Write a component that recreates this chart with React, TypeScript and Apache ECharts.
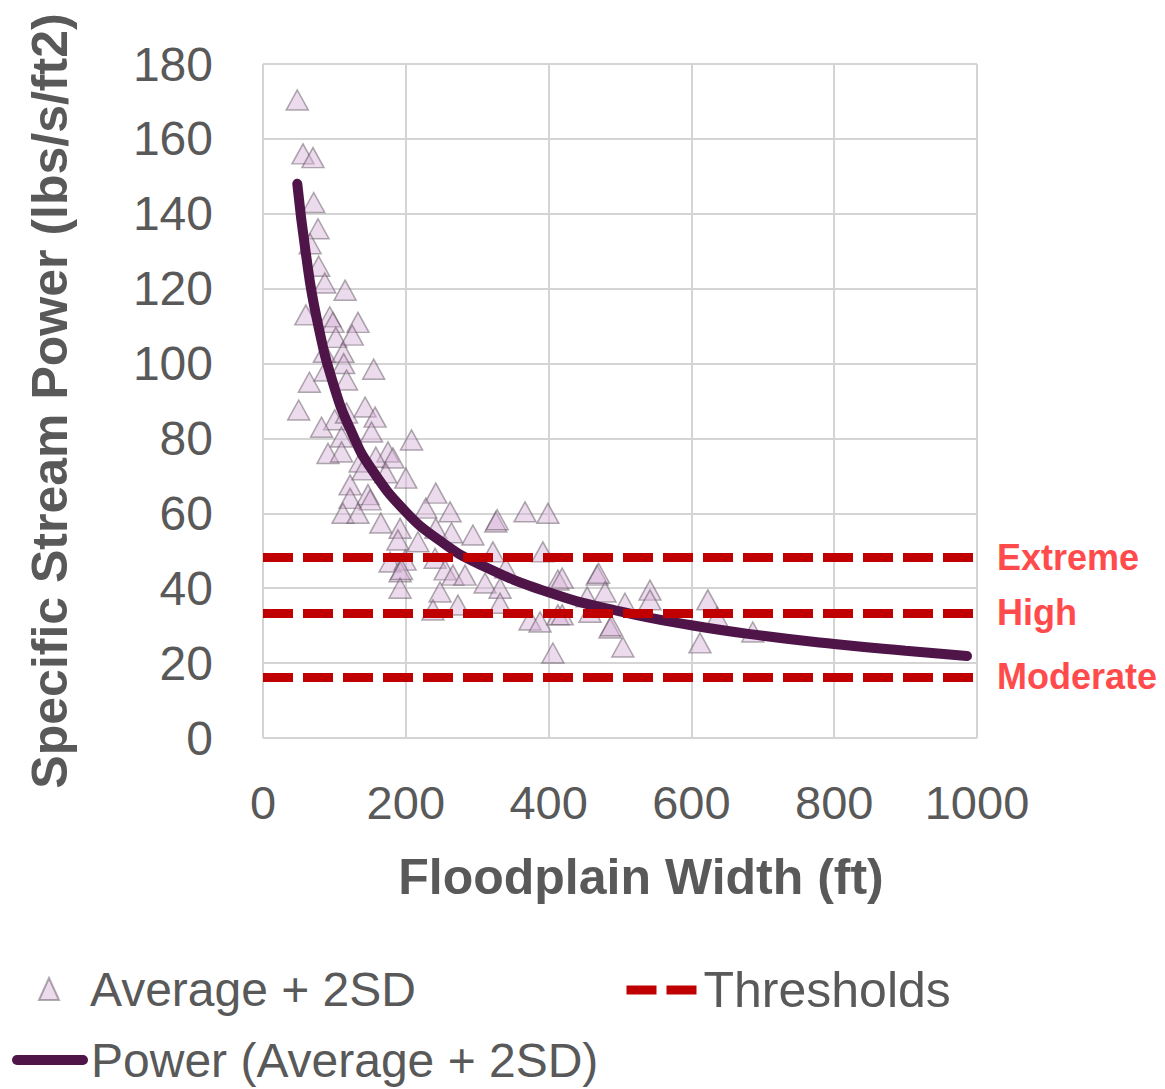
import React, { useEffect, useRef } from "react";
import * as echarts from "echarts";

// Scatter: Average + 2SD (floodplain width ft, specific stream power)
const scatterX = [
  48, 56, 70, 71, 77, 66, 78, 86.5, 115, 60, 93.5, 98, 133, 102, 125, 86, 112, 113, 155, 65,
  117, 87, 50, 143, 157, 100.5, 117, 82, 152, 208, 110, 91, 110, 175, 136, 182, 158, 140, 172, 200,
  122, 242, 147, 122, 150, 112, 133, 228, 262, 326, 328, 367, 399, 165, 192, 242, 264, 294, 189, 217,
  322, 392, 178, 199, 241, 192, 194, 255, 266, 283, 311, 332, 340, 413, 192, 248, 273, 238, 332, 374,
  388, 413, 406, 419, 468, 470, 479, 454, 542, 542, 507, 419, 458, 623, 636, 486, 488, 504, 612, 686,
];
const scatterY = [
  170.4, 156, 155, 143, 136, 132, 126, 121.5, 119.6, 113, 112.5, 111, 111, 107, 107.6, 103, 103, 100, 98.5, 95,
  95.6, 98, 87.6, 88.4, 85.7, 85, 86.8, 83, 81.7, 79.6, 80.4, 76, 76.4, 76.4, 73.7, 74.8, 75, 71.6, 70.8, 69.4,
  67.6, 65.4, 65, 64, 63.6, 60, 60, 61.4, 60.4, 57.7, 58.3, 60.4, 60, 57.4, 56, 56, 54.8, 54.2, 52.9, 52.4,
  49.7, 49.7, 47, 47.5, 48, 44.4, 45, 44.9, 43.5, 43.5, 41.4, 40, 45.4, 42.2, 40, 39, 35.5, 34.2, 36, 31.5,
  31, 32.9, 22.7, 42.7, 43.5, 44, 39, 37.7, 39.5, 36.9, 36, 32.9, 33.6, 36.9, 32.3, 29.4, 30, 24.3, 25.4, 28.3,
];

// Power trend line (Average + 2SD)
const trendX = [48, 60, 75, 100, 125, 150, 200, 250, 300, 400, 500, 600, 700, 800, 900, 986];
const trendY = [148, 129.4, 112.3, 93.6, 81.3, 72.4, 60.4, 52.4, 46.7, 38.9, 33.8, 30.1, 27.3, 25.1, 23.3, 21.9];

// Thresholds
const thresholdNames = ["Extreme", "High", "Moderate"];
const thresholdValues = [48.3, 33.4, 16.3];

// Axes
const xTicks = { min: 0, max: 1000, interval: 200 };
const yTicks = { min: 0, max: 180, interval: 20 };

const FONT = "'Liberation Sans', Arial, sans-serif";
const GREY = "#595959";

export default function App() {
  const ref = useRef<HTMLDivElement>(null);

  useEffect(() => {
    document.body.style.margin = "0";
    if (!ref.current) return;
    const chart = echarts.init(ref.current, undefined, { renderer: "svg" });

    const scatterData = scatterX.map((x, i) => [x, scatterY[i]]);
    const trendData = trendX.map((x, i) => [x, trendY[i]]);

    chart.setOption({
      animation: false,
      backgroundColor: "#ffffff",
      textStyle: { fontFamily: FONT },
      grid: { left: 263, right: 188, top: 64, bottom: 351, containLabel: false },
      xAxis: {
        type: "value",
        ...xTicks,
        name: "Floodplain Width (ft)",
        nameLocation: "middle",
        nameGap: 114,
        nameTextStyle: {
          fontSize: 50,
          fontWeight: "bold",
          color: GREY,
          fontFamily: FONT,
          padding: [0, 0, 0, 42],
        },
        axisLine: { show: false },
        axisTick: { show: false },
        axisLabel: {
          fontSize: 47,
          color: GREY,
          margin: 41,
          fontFamily: FONT,
          formatter: (v: number) => String(v),
        },
        splitLine: { show: true, lineStyle: { color: "#d4d4d4", width: 2 } },
      },
      yAxis: {
        type: "value",
        ...yTicks,
        name: "Specific Stream Power (lbs/s/ft2)",
        nameLocation: "middle",
        nameGap: 188,
        nameTextStyle: { fontSize: 50, fontWeight: "bold", color: GREY, fontFamily: FONT },
        axisLine: { show: false },
        axisTick: { show: false },
        axisLabel: { fontSize: 48, color: GREY, margin: 50, fontFamily: FONT },
        splitLine: { show: true, lineStyle: { color: "#d4d4d4", width: 2 } },
      },
      legend: [
        {
          data: ["Average + 2SD"],
          left: 38,
          top: 965,
          padding: 0,
          itemWidth: 20,
          itemHeight: 22,
          textStyle: { fontSize: 48, color: GREY, fontFamily: FONT, padding: [0, 0, 0, 26] },
        },
        {
          data: ["Thresholds"],
          left: 622,
          top: 965,
          padding: 0,
          itemWidth: 70,
          itemHeight: 10,
          itemStyle: { opacity: 0 },
          lineStyle: { width: 9, type: [30, 10], cap: "butt", color: "#c00000", opacity: 1 },
          textStyle: { fontSize: 50, color: GREY, fontFamily: FONT, padding: [0, 0, 0, 2] },
        },
        {
          data: ["Power (Average + 2SD)"],
          left: 12,
          top: 1036,
          padding: 0,
          itemWidth: 66,
          itemHeight: 10,
          lineStyle: { width: 10, cap: "round", color: "#4f1549" },
          textStyle: { fontSize: 48, color: GREY, fontFamily: FONT, padding: [0, 0, 0, 3] },
        },
      ],
      series: [
        {
          name: "Thresholds",
          type: "line",
          data: [],
          symbol: "none",
          showSymbol: false,
          itemStyle: { color: "#c00000" },
          lineStyle: { color: "#c00000", width: 9, type: [30, 10] },
          markLine: {
            silent: true,
            symbol: "none",
            lineStyle: { color: "#c00000", width: 9, type: [30, 10], cap: "butt" },
            label: {
              show: true,
              position: "end",
              distance: 20,
              formatter: "{b}",
              color: "#ff4b4b",
              fontSize: 36,
              fontWeight: "bold",
              fontFamily: FONT,
            },
            data: thresholdValues.map((v, i) => ({ name: thresholdNames[i], yAxis: v })),
          },
        },
        {
          name: "Average + 2SD",
          type: "scatter",
          symbol: "triangle",
          symbolSize: [22, 20],
          data: scatterData,
          itemStyle: {
            color: "rgba(215,178,215,0.58)",
            borderColor: "rgba(90,80,90,0.6)",
            borderWidth: 1.5,
          },
        },
        {
          name: "Power (Average + 2SD)",
          type: "line",
          smooth: true,
          symbol: "none",
          data: trendData,
          itemStyle: { color: "#4f1549" },
          lineStyle: { color: "#4f1549", width: 10, cap: "round" },
        },
      ],
    });

    return () => chart.dispose();
  }, []);

  return <div ref={ref} style={{ width: 1165, height: 1089 }} />;
}
